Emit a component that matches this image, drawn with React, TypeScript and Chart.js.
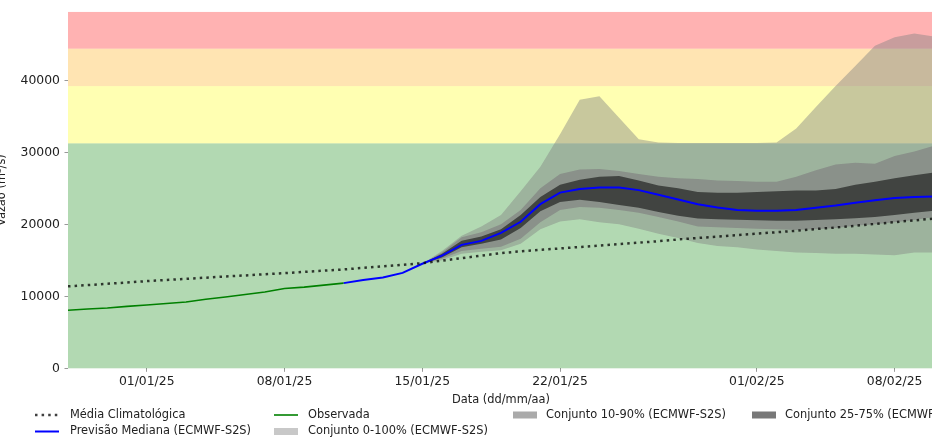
import React, { useEffect, useRef } from 'react';
import { Chart, registerables } from 'chart.js';

Chart.register(...registerables);

// Days relative to 01/01/25 (day 0)
const climDays = [-4, -3, -2, -1, 0, 1, 2, 3, 4, 5, 6, 7, 8, 9, 10, 11, 12, 13, 14, 15, 16, 17, 18, 19, 20, 21, 22, 23, 24, 25, 26, 27, 28, 29, 30, 31, 32, 33, 34, 35, 36, 37, 38, 39, 40];
const climValues = [11380, 11560, 11740, 11920, 12110, 12270, 12430, 12590, 12750, 12900, 13060, 13220, 13390, 13560, 13730, 13950, 14170, 14380, 14600, 14950, 15300, 15650, 16000, 16250, 16450, 16650, 16850, 17050, 17250, 17450, 17650, 17900, 18100, 18300, 18500, 18700, 18900, 19100, 19350, 19550, 19800, 20050, 20300, 20550, 20800];

const obsDays = [-4, -3, -2, -1, 0, 1, 2, 3, 4, 5, 6, 7, 8, 9, 10];
const obsValues = [8060, 8230, 8380, 8600, 8800, 9000, 9200, 9600, 9900, 10250, 10600, 11080, 11280, 11550, 11830];

const medDays = [10, 11, 12, 13, 14, 15, 16, 17, 18, 19, 20, 21, 22, 23, 24, 25, 26, 27, 28, 29, 30, 31, 32, 33, 34, 35, 36, 37, 38, 39, 40];
const medValues = [11830, 12280, 12600, 13250, 14520, 15650, 17150, 17700, 18800, 20350, 22800, 24400, 24900, 25100, 25100, 24750, 24100, 23450, 22800, 22350, 22000, 21900, 21900, 22000, 22300, 22600, 23000, 23350, 23650, 23780, 23850];

const ensDays = [14, 15, 16, 17, 18, 19, 20, 21, 22, 23, 24, 25, 26, 27, 28, 29, 30, 31, 32, 33, 34, 35, 36, 37, 38, 39, 40];
const p75Values = [14520, 15900, 17700, 18300, 19300, 21300, 23800, 25500, 26200, 26600, 26700, 26100, 25400, 25000, 24500, 24400, 24400, 24500, 24600, 24700, 24700, 24900, 25500, 25900, 26400, 26800, 27200];
const p25Values = [14520, 15400, 16800, 17300, 17900, 19500, 21800, 23100, 23400, 23100, 22700, 22300, 21700, 21200, 20800, 20700, 20650, 20550, 20500, 20500, 20600, 20700, 20850, 21000, 21300, 21600, 21900];
const p90Values = [14520, 16100, 18200, 18900, 20000, 22000, 25000, 27000, 27600, 27700, 27400, 27000, 26600, 26400, 26300, 26100, 26000, 25900, 25900, 26600, 27500, 28300, 28550, 28400, 29500, 30100, 30900];
const p10Values = [14520, 15200, 16300, 16600, 16900, 18000, 20300, 22000, 22400, 22300, 22000, 21600, 21000, 20400, 19700, 19600, 19500, 19400, 19300, 19200, 19300, 19500, 19800, 20000, 20300, 20600, 21000];
const maxValues = [14520, 16300, 18400, 19700, 21300, 24600, 28000, 32500, 37300, 37800, 34800, 31800, 31350, 31300, 31300, 31300, 31300, 31300, 31350, 33300, 36300, 39200, 42000, 44800, 46000, 46500, 46100];
const minValues = [14520, 15000, 15900, 16200, 16400, 17300, 19300, 20400, 20700, 20300, 20000, 19400, 18700, 18100, 17400, 17000, 16800, 16500, 16300, 16100, 16000, 15900, 15900, 15800, 15700, 16100, 16100];

const xTickDays = [0, 7, 14, 21, 31, 38];
const xTickLabels = ['01/01/25', '08/01/25', '15/01/25', '22/01/25', '01/02/25', '08/02/25'];
const yTickValues = [0, 10000, 20000, 30000, 40000];

// Alert bands: limits and colours
const bandLimits = [0, 31250, 39200, 44400, 49500];
const bandColors = ['rgba(0,128,0,0.3)', 'rgba(255,255,0,0.3)', 'rgba(255,165,0,0.3)', 'rgba(255,0,0,0.3)'];

const legendLabels = [
  'Média Climatológica',
  'Previsão Mediana (ECMWF-S2S)',
  'Observada',
  'Conjunto 0-100% (ECMWF-S2S)',
  'Conjunto 10-90% (ECMWF-S2S)',
  'Conjunto 25-75% (ECMWF-S2S)',
];

const FONT = '"DejaVu Sans", sans-serif';
const C_CLIM = 'rgba(0,0,0,0.75)';
const C_OBS = '#008000';
const C_MED = '#0000ff';
const C_0100 = 'rgba(128,128,128,0.43)';
const C_1090 = 'rgba(128,128,128,0.67)';
const C_2575 = 'rgba(0,0,0,0.53)';

const pts = (xs: number[], ys: number[]) => xs.map((x, i) => ({ x, y: ys[i] }));

const OFFSET_X = 10; // canvas is shifted left by this many px

const bandsPlugin = {
  id: 'bands',
  beforeDatasetsDraw(chart: any) {
    const { ctx, chartArea, scales } = chart;
    const y = scales.y;
    ctx.save();
    for (let i = 0; i < bandColors.length; i++) {
      const top = y.getPixelForValue(bandLimits[i + 1]);
      const bot = y.getPixelForValue(bandLimits[i]);
      ctx.fillStyle = bandColors[i];
      ctx.fillRect(chartArea.left, top, chartArea.right - chartArea.left, bot - top);
    }
    ctx.restore();
  },
};

const extrasPlugin = {
  id: 'extras',
  afterDraw(chart: any) {
    const { ctx, chartArea } = chart;
    ctx.save();
    ctx.fillStyle = '#222';
    ctx.font = `11.4px ${FONT}`;
    ctx.translate(5 + OFFSET_X, (chartArea.top + chartArea.bottom) / 2);
    ctx.rotate(-Math.PI / 2);
    ctx.textAlign = 'center';
    ctx.textBaseline = 'alphabetic';
    ctx.fillText('Vazão (m³/s)', 0, 0);
    ctx.restore();

    ctx.save();
    ctx.fillStyle = '#222';
    ctx.font = `11.4px ${FONT}`;
    ctx.textAlign = 'center';
    ctx.textBaseline = 'middle';
    ctx.fillText('Data (dd/mm/aa)', (chartArea.left + chartArea.right) / 2, 400.5);

    const rows = [415, 431.5];
    const items = [
      { kind: 'dot', x: 35, row: 0, textX: 70 },
      { kind: 'med', x: 35, row: 1, textX: 70 },
      { kind: 'obs', x: 274, row: 0, textX: 308 },
      { kind: 'p0100', x: 274, row: 1, textX: 308 },
      { kind: 'p1090', x: 513, row: 0, textX: 546 },
      { kind: 'p2575', x: 752, row: 0, textX: 785 },
    ];
    items.forEach((it, i) => {
      const yy = rows[it.row];
      const x0 = it.x + OFFSET_X;
      const w = 24;
      if (it.kind === 'dot' || it.kind === 'med' || it.kind === 'obs') {
        ctx.beginPath();
        ctx.moveTo(x0, yy);
        ctx.lineTo(x0 + w, yy);
        if (it.kind === 'dot') {
          ctx.setLineDash([2.5, 4.1]);
          ctx.lineWidth = 2.5;
          ctx.strokeStyle = C_CLIM;
        } else if (it.kind === 'med') {
          ctx.setLineDash([]);
          ctx.lineWidth = 2;
          ctx.strokeStyle = C_MED;
        } else {
          ctx.setLineDash([]);
          ctx.lineWidth = 1.6;
          ctx.strokeStyle = C_OBS;
        }
        ctx.stroke();
        ctx.setLineDash([]);
      } else {
        ctx.fillStyle = it.kind === 'p0100' ? C_0100 : it.kind === 'p1090' ? C_1090 : C_2575;
        ctx.fillRect(x0, yy - 3.5, w, 7);
      }
      ctx.fillStyle = '#222';
      ctx.textAlign = 'left';
      ctx.fillText(legendLabels[i], it.textX + OFFSET_X, yy);
    });
    ctx.restore();
  },
};

export default function App() {
  const ref = useRef<HTMLCanvasElement>(null);
  useEffect(() => {
    const chart = new Chart(ref.current as HTMLCanvasElement, {
      type: 'line',
      data: {
        datasets: [
          { label: legendLabels[0], data: pts(climDays, climValues), borderColor: C_CLIM, borderWidth: 2.5, borderDash: [2.5, 4.1], borderCapStyle: 'butt', pointRadius: 0, fill: false },
          { label: legendLabels[2], data: pts(obsDays, obsValues), borderColor: C_OBS, borderWidth: 1.6, pointRadius: 0, fill: false },
          { label: legendLabels[1], data: pts(medDays, medValues), borderColor: C_MED, borderWidth: 2, pointRadius: 0, fill: false },
          { label: 'p75', data: pts(ensDays, p75Values), borderWidth: 0, borderColor: 'rgba(0,0,0,0)', pointRadius: 0, fill: '+1', backgroundColor: C_2575 },
          { label: 'p25', data: pts(ensDays, p25Values), borderWidth: 0, borderColor: 'rgba(0,0,0,0)', pointRadius: 0, fill: false },
          { label: 'p90', data: pts(ensDays, p90Values), borderWidth: 0, borderColor: 'rgba(0,0,0,0)', pointRadius: 0, fill: '+1', backgroundColor: C_1090 },
          { label: 'p10', data: pts(ensDays, p10Values), borderWidth: 0, borderColor: 'rgba(0,0,0,0)', pointRadius: 0, fill: false },
          { label: 'max', data: pts(ensDays, maxValues), borderWidth: 0, borderColor: 'rgba(0,0,0,0)', pointRadius: 0, fill: '+1', backgroundColor: C_0100 },
          { label: 'min', data: pts(ensDays, minValues), borderWidth: 0, borderColor: 'rgba(0,0,0,0)', pointRadius: 0, fill: false },
        ],
      },
      options: {
        responsive: false,
        animation: false,
        devicePixelRatio: 1,
        layout: { padding: { top: 8, left: 0, right: 0, bottom: 0 } },
        elements: { line: { tension: 0 } },
        plugins: {
          legend: { display: false },
          tooltip: { enabled: false },
          title: { display: false },
        },
        scales: {
          x: {
            type: 'linear',
            min: -4,
            max: 40,
            border: { display: false },
            grid: { display: true, drawOnChartArea: false, drawTicks: true, tickLength: 3.5, color: '#999' },
            ticks: {
              padding: 3,
              color: '#222',
              font: { family: FONT, size: 12.4 },
              maxRotation: 0,
              autoSkip: false,
              callback: (_v: any, i: number) => xTickLabels[i],
            },
            afterBuildTicks: (scale: any) => {
              scale.ticks = xTickDays.map((v) => ({ value: v }));
            },
            afterFit: (scale: any) => {
              scale.height = 72.7;
            },
          },
          y: {
            type: 'linear',
            min: 0,
            max: 49500,
            border: { display: false },
            grid: { display: true, drawOnChartArea: false, drawTicks: true, tickLength: 3.5, color: '#999' },
            ticks: {
              padding: 4.5,
              color: '#222',
              font: { family: FONT, size: 12.4 },
              callback: (v: any) => String(v),
            },
            afterBuildTicks: (scale: any) => {
              scale.ticks = yTickValues.map((v) => ({ value: v }));
            },
            afterFit: (scale: any) => {
              scale.width = 68 + OFFSET_X;
            },
          },
        },
      },
      plugins: [bandsPlugin, extrasPlugin],
    } as any);
    return () => chart.destroy();
  }, []);

  return (
    <div style={{ position: 'fixed', left: 0, top: 0, width: 932, height: 441, overflow: 'hidden', background: '#fff' }}>
      <canvas
        ref={ref}
        width={944}
        height={441}
        style={{ position: 'absolute', left: -OFFSET_X, top: 0, width: 944, height: 441 }}
      />
    </div>
  );
}
